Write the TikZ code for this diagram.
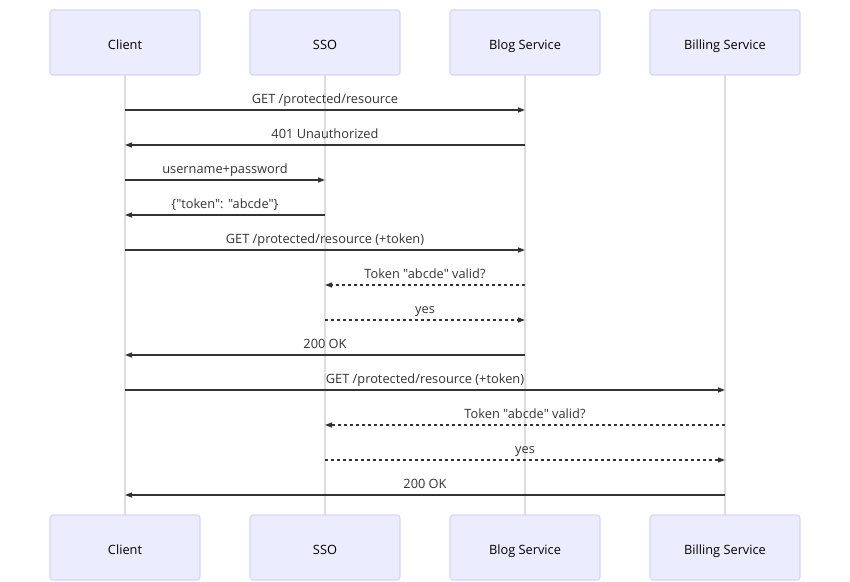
\documentclass[tikz,border=0pt]{standalone}
\usepackage{fontspec}
\setmainfont{Open Sans}[Ligatures=TeXOff]
\usetikzlibrary{arrows.meta}
\definecolor{boxfill}{HTML}{ECECFF}
\definecolor{boxline}{HTML}{D6D6FA}
\definecolor{lifeline}{HTML}{DDDDDD}
\definecolor{msg}{HTML}{333333}
\tikzset{
  actor/.style={draw=boxline, fill=boxfill, line width=1.2pt, rounded corners=3pt,
    minimum width=150pt, minimum height=65pt, font=\fontsize{12.8pt}{14pt}\selectfont,
    text=black, inner sep=0pt, text height=13pt, text depth=0pt},
  life/.style={draw=lifeline, line width=1.6pt},
  call/.style={draw=msg, line width=1.3pt, -{Triangle[length=7pt,width=5pt]}},
  reply/.style={call, dash pattern=on 3pt off 3pt},
  lbl/.style={font=\fontsize{12.8pt}{14pt}\selectfont, text=msg, inner sep=0pt, anchor=base, yshift=7pt}
}
\begin{document}
\begin{tikzpicture}[x=1pt,y=-1pt]
\useasboundingbox (0,0) rectangle (850,581);
% lifelines
\foreach \x/\n in {125/c,325/s,525/b,725/p}{
  \coordinate (\n top) at (\x,75);
  \coordinate (\n bot) at (\x,515);
  \draw[life] (\n top) -- (\n bot);
  \foreach \y in {110,145,180,215,250,285,320,355,390,425,460,495}{
    \coordinate (\n\y) at (\x,\y);
  }
}
\node[actor] (C1) at (125,42.5) {Client};
\node[actor] (S1) at (325,42.5) {SSO};
\node[actor] (B1) at (525,42.5) {Blog Service};
\node[actor] (P1) at (725,42.5) {Billing Service};
\node[actor] (C2) at (125,547.5) {Client};
\node[actor] (S2) at (325,547.5) {SSO};
\node[actor] (B2) at (525,547.5) {Blog Service};
\node[actor] (P2) at (725,547.5) {Billing Service};

\draw[call] (c110) -- node[lbl] {GET /protected/resource} (b110);
\draw[call] (b145) -- node[lbl] {401 Unauthorized} (c145);
\draw[call] (c180) -- node[lbl] {username+password} (s180);
\draw[call] (s215) -- node[lbl] {\{"token": "abcde"\}} (c215);
\draw[call] (c250) -- node[lbl] {GET /protected/resource (+token)} (b250);
\draw[reply] (b285) -- node[lbl] {Token "abcde" valid?} (s285);
\draw[reply] (s320) -- node[lbl] {yes} (b320);
\draw[call] (b355) -- node[lbl] {200 OK} (c355);
\draw[call] (c390) -- node[lbl] {GET /protected/resource (+token)} (p390);
\draw[reply] (p425) -- node[lbl] {Token "abcde" valid?} (s425);
\draw[reply] (s460) -- node[lbl] {yes} (p460);
\draw[call] (p495) -- node[lbl] {200 OK} (c495);
\end{tikzpicture}
\end{document}
